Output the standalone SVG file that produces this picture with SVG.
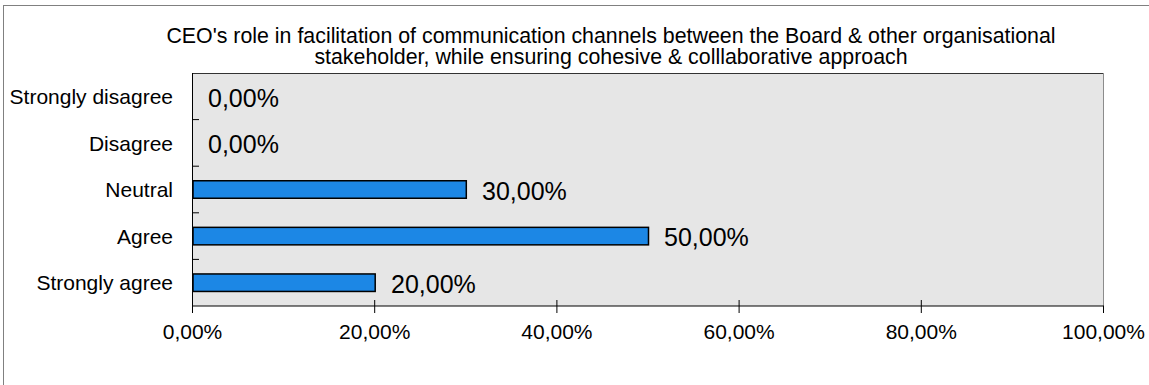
<svg xmlns="http://www.w3.org/2000/svg" width="1149" height="385" viewBox="0 0 1149 385">
<style>
text{font-family:"Liberation Sans",Arial,sans-serif;fill:#000}
.t{font-size:21.35px;text-anchor:middle}
.cat{font-size:21px;text-anchor:end}
.val{font-size:25px}
.ax{font-size:21px;text-anchor:middle}
.bar{fill:#1C87E5;stroke:#000;stroke-width:1.5}
.tk{stroke:#000;stroke-width:1}
</style>
<rect x="3.5" y="5.5" width="1200" height="500" fill="#fff" stroke="#808080" stroke-width="1"/>
<g id="title">
<text class="t" x="611" y="42.5">CEO's role in facilitation of communication channels between the Board &amp; other organisational</text>
<text class="t" x="611" y="64">stakeholder, while ensuring cohesive &amp; colllaborative approach</text>
</g>
<g id="plot">
<rect x="192.5" y="73.5" width="911" height="232.5" fill="#e6e6e6"/>
<line x1="192.5" y1="73.5" x2="1103.5" y2="73.5" stroke="#333" stroke-width="1"/>
<line x1="1103.5" y1="73.5" x2="1103.5" y2="306" stroke="#8c8c8c" stroke-width="1"/>
</g>
<g id="connectors">
<line class="tk" x1="192.5" y1="73" x2="192.5" y2="313"/>
<line class="tk" x1="192" y1="306" x2="1104" y2="306"/>
<line class="tk" x1="192.5" y1="119.6" x2="199" y2="119.6"/>
<line class="tk" x1="192.5" y1="166.2" x2="199" y2="166.2"/>
<line class="tk" x1="192.5" y1="212.8" x2="199" y2="212.8"/>
<line class="tk" x1="192.5" y1="259.4" x2="199" y2="259.4"/>
<line class="tk" x1="374.7" y1="300" x2="374.7" y2="313"/>
<line class="tk" x1="556.9" y1="300" x2="556.9" y2="313"/>
<line class="tk" x1="739.1" y1="300" x2="739.1" y2="313"/>
<line class="tk" x1="921.3" y1="300" x2="921.3" y2="313"/>
<line class="tk" x1="1103.5" y1="306" x2="1103.5" y2="313"/>
</g>
<g id="cat-strongly-disagree">
<text class="cat" x="173" y="104">Strongly disagree</text>
<text class="val" x="208" y="106.5">0,00%</text>
</g>
<g id="cat-disagree">
<text class="cat" x="173" y="150.6">Disagree</text>
<text class="val" x="208" y="153.1">0,00%</text>
</g>
<g id="cat-neutral">
<text class="cat" x="173" y="197.2">Neutral</text>
<rect class="bar" x="193" y="180.75" width="273.3" height="17.5"/>
<text class="val" x="482" y="199.7">30,00%</text>
</g>
<g id="cat-agree">
<text class="cat" x="173" y="243.8">Agree</text>
<rect class="bar" x="193" y="227.35" width="455.5" height="17.5"/>
<text class="val" x="664" y="246.3">50,00%</text>
</g>
<g id="cat-strongly-agree">
<text class="cat" x="173" y="290.4">Strongly agree</text>
<rect class="bar" x="193" y="273.95" width="182.2" height="17.5"/>
<text class="val" x="391" y="292.9">20,00%</text>
</g>
<g id="x-axis-labels">
<text class="ax" x="192.5" y="339">0,00%</text>
<text class="ax" x="374.7" y="339">20,00%</text>
<text class="ax" x="556.9" y="339">40,00%</text>
<text class="ax" x="739.1" y="339">60,00%</text>
<text class="ax" x="921.3" y="339">80,00%</text>
<text class="ax" x="1103.5" y="339">100,00%</text>
</g>
</svg>
